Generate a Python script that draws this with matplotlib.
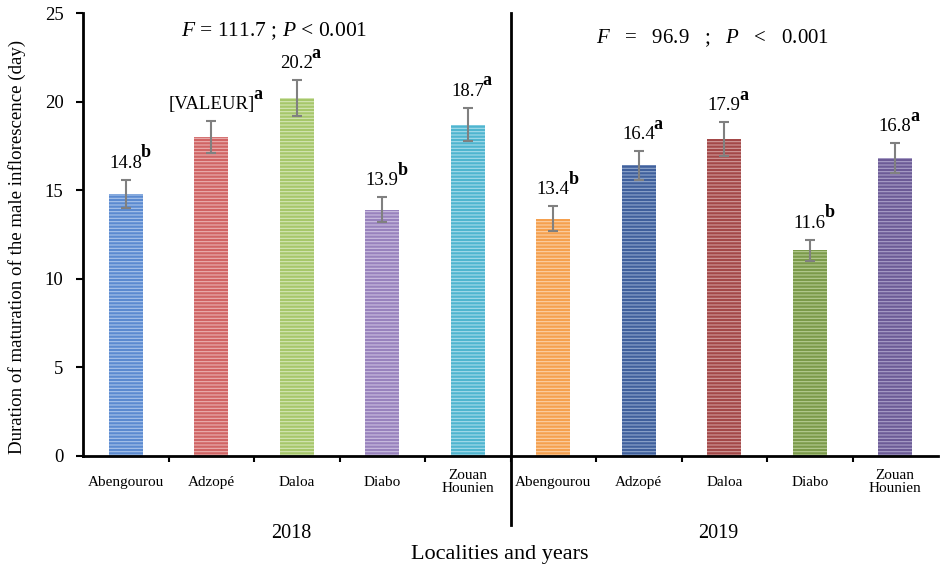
import numpy as np
import matplotlib.pyplot as plt
from matplotlib.ticker import MultipleLocator

plt.rcParams['font.family'] = 'Liberation Serif'
plt.rcParams['mathtext.fontset'] = 'custom'
plt.rcParams['mathtext.rm'] = 'Liberation Serif'
plt.rcParams['mathtext.it'] = 'Liberation Serif:italic'
plt.rcParams['mathtext.bf'] = 'Liberation Serif:bold'
plt.rcParams['hatch.linewidth'] = 0.8

# Data
localities = ['Abengourou', 'Adzopé', 'Daloa', 'Diabo', 'Zouan\nHounien'] * 2
years = ['2018', '2019']
means = [14.8, 18.0, 20.2, 13.9, 18.7, 13.4, 16.4, 17.9, 11.6, 16.8]
errors = [0.8, 0.9, 1.0, 0.7, 0.95, 0.7, 0.8, 0.95, 0.6, 0.85]
value_text = ['14.8', '[VALEUR]', '20.2', '13.9', '18.7',
              '13.4', '16.4', '17.9', '11.6', '16.8']
letters = ['b', 'a', 'a', 'b', 'a', 'b', 'a', 'a', 'b', 'a']
bar_colors = ['#5b8ad0', '#d06464', '#a6c76a', '#9882bd', '#4fb5cf',
              '#f5a04e', '#40609c', '#a34848', '#7b9a4a', '#6c5b96']
hatch_colors = ['#a9c4ea', '#eab0b0', '#d5e6b6', '#cbbfe0', '#a6dcea',
                '#fbd0a6', '#8fa6cc', '#d19a9a', '#b6cc92', '#aaa0c8']
stats = ['$F$ = 111.7 ; $P$ < 0.001', '$F$   =   96.9   ;   $P$   <   0.001']

fig = plt.figure(figsize=(9.4, 5.71), dpi=100)
ax = fig.add_axes([83 / 940, 115 / 571, 855 / 940, 443 / 571])

x = np.arange(len(means))
for i in x:
    ax.bar(x[i], means[i], width=0.4, color=bar_colors[i],
           edgecolor=hatch_colors[i], linewidth=0, hatch='-----', zorder=2)
ax.errorbar(x, means, yerr=errors, fmt='none', ecolor='#808080',
            elinewidth=1.5, capsize=3.5, capthick=1.5, zorder=3)

for i in x:
    t = ax.text(x[i], means[i] + errors[i] + 0.45, value_text[i],
                ha='center', va='bottom', fontsize=13.5)
    # significance letter as bold superscript
    ax.annotate(letters[i], xy=(1, 0.45), xycoords=t, xytext=(-1, 2),
                textcoords='offset points', ha='left', va='bottom',
                fontsize=13, fontweight='bold')

ax.set_xlim(-0.5, 9.5)
ax.set_ylim(0, 25)
ax.yaxis.set_major_locator(MultipleLocator(5))
ax.set_xticks(x)
ax.set_xticklabels(localities, fontsize=11, linespacing=1.0)
ax.set_xticks(np.arange(0.5, 9.5, 1), minor=True)
ax.tick_params(axis='x', which='major', length=0, pad=19)
ax.tick_params(axis='x', which='minor', length=4, width=1.5, direction='out')
ax.tick_params(axis='y', labelsize=13.5, length=5, width=1.5,
               direction='out', pad=9)
for lab in ax.get_xticklabels():
    lab.set_verticalalignment('center')

for s in ['top', 'right']:
    ax.spines[s].set_visible(False)
for s in ['left', 'bottom']:
    ax.spines[s].set_linewidth(2)

# year separator, extends below the axis
ax.plot([4.5, 4.5], [1.0, -0.156], transform=ax.get_xaxis_transform(),
        color='black', linewidth=2, clip_on=False)

ax.text(1.93, -0.174, years[0], transform=ax.get_xaxis_transform(),
        ha='center', va='center', fontsize=14.5)
ax.text(6.93, -0.174, years[1], transform=ax.get_xaxis_transform(),
        ha='center', va='center', fontsize=14.5)

ax.text(1.74, 0.959, stats[0], transform=ax.get_xaxis_transform(),
        ha='center', va='center', fontsize=15.5)
ax.text(6.86, 0.944, stats[1], transform=ax.get_xaxis_transform(),
        ha='center', va='center', fontsize=15)

ax.set_ylabel('Duration of maturation of the male inflorescence (day)',
              fontsize=13.6)
ax.yaxis.set_label_coords(-0.067, 0.472)
fig.text(500 / 940, 1 - 555 / 571, 'Localities and years',
         ha='center', va='center', fontsize=16)

fig.savefig('out.png', dpi=100)
